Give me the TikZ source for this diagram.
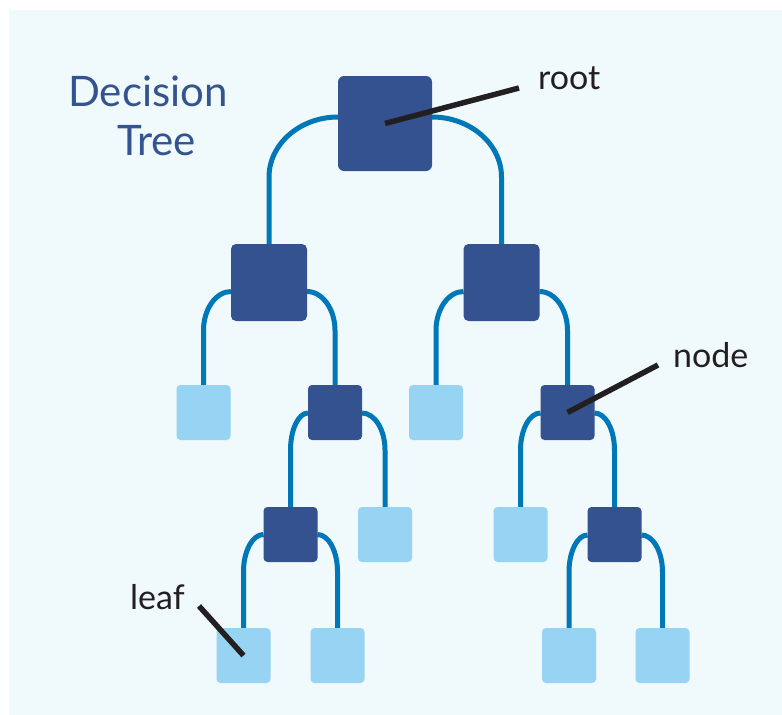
\documentclass[tikz,border=0pt]{standalone}
\usepackage{fontspec}
\setmainfont{Lato}
\usetikzlibrary{calc}
\definecolor{bgc}{HTML}{F0F9FC}
\definecolor{darkbox}{HTML}{33528F}
\definecolor{leafbox}{HTML}{97D4F3}
\definecolor{linec}{HTML}{0078B7}
\definecolor{titlec}{HTML}{34548F}
\definecolor{labc}{HTML}{231F20}
\pgfdeclarelayer{bglayer}
\pgfdeclarelayer{connlayer}
\pgfsetlayers{bglayer,connlayer,main}
\tikzset{
  box/.style={draw=none, inner sep=0pt, outer sep=0pt, rectangle},
  rootbox/.style={box, fill=darkbox, minimum width=94pt, minimum height=95pt, rounded corners=6pt},
  midbox/.style={box, fill=darkbox, minimum width=76pt, minimum height=77pt, rounded corners=5pt},
  inbox/.style={box, fill=darkbox, minimum width=54pt, minimum height=55pt, rounded corners=4pt},
  leafnode/.style={box, fill=leafbox, minimum width=54pt, minimum height=55pt, rounded corners=4pt},
  conn/.style={draw=linec, line width=5pt},
  pointer/.style={draw=labc, line width=5.5pt},
  lab/.style={text=labc, inner sep=0pt, anchor=base west, font=\fontsize{34}{40}\selectfont},
  titletext/.style={text=titlec, inner sep=0pt, anchor=base, font=\fontsize{42}{49}\selectfont},
}
\newcommand\tbranch[5]{%
  \draw[conn] let \p1=(#1.#3), \p2=(#1.center), \p3=(#2.north) in
    (\x1,{\y2-#4pt}) .. controls ({\x1+0.55*(\x3-\x1)},{\y2-#4pt}) and (\x3,{\y2-#4pt-0.45*#5pt}) ..
    (\x3,{\y2-#4pt-#5pt}) -- (\p3);}
\begin{document}
\begin{tikzpicture}[x=1pt,y=-1pt]
\useasboundingbox (0,0) rectangle (782,715);
\begin{pgfonlayer}{bglayer}
\fill[bgc] (9,10) rectangle (782,715);
\end{pgfonlayer}
% nodes
\node[rootbox] (root) at (385,123.5) {};
\node[midbox] (a) at (269,282.5) {};
\node[midbox] (b) at (501.5,282.5) {};
\node[leafnode] (l1) at (203.5,412.5) {};
\node[inbox] (c) at (335,412.5) {};
\node[leafnode] (l2) at (436,412.5) {};
\node[inbox] (d) at (567.5,412.5) {};
\node[inbox] (e) at (290.5,534.5) {};
\node[leafnode] (l3) at (385,534.5) {};
\node[leafnode] (l4) at (520.5,534.5) {};
\node[inbox] (f) at (614.5,534.5) {};
\node[leafnode] (l5) at (243.5,655.5) {};
\node[leafnode] (l6) at (337.5,655.5) {};
\node[leafnode] (l7) at (569,655.5) {};
\node[leafnode] (l8) at (662.5,655.5) {};
% connectors
\begin{pgfonlayer}{connlayer}
\tbranch{root}{a}{west}{-6.5}{60}
\tbranch{root}{b}{east}{-6.5}{60}
\tbranch{a}{l1}{west}{9}{39}
\tbranch{a}{c}{east}{9}{39}
\tbranch{b}{l2}{west}{9}{39}
\tbranch{b}{d}{east}{9}{39}
\tbranch{c}{e}{west}{0.5}{37}
\tbranch{c}{l3}{east}{0.5}{37}
\tbranch{d}{l4}{west}{0.5}{37}
\tbranch{d}{f}{east}{0.5}{37}
\tbranch{e}{l5}{west}{0}{37}
\tbranch{e}{l6}{east}{0}{37}
\tbranch{f}{l7}{west}{0.5}{37}
\tbranch{f}{l8}{east}{0.5}{37}
\end{pgfonlayer}
% title
\node[titletext] (t1) at (148,106) {Decision};
\node[titletext] (t2) at (156.5,155) {Tree};
% labels and pointers
\node[lab] (rootlab) at (538,89) {root};
\node[lab] (nodelab) at (673,367) {node};
\node[lab] (leaflab) at (130,609) {leaf};
\coordinate (rp) at (519,88);
\coordinate (np) at (658,365);
\coordinate (lp) at (199,606);
\draw[pointer] (rp) -- (root.center);
\draw[pointer] (np) -- (d.center);
\draw[pointer] (lp) -- (l5.center);
\end{tikzpicture}
\end{document}
